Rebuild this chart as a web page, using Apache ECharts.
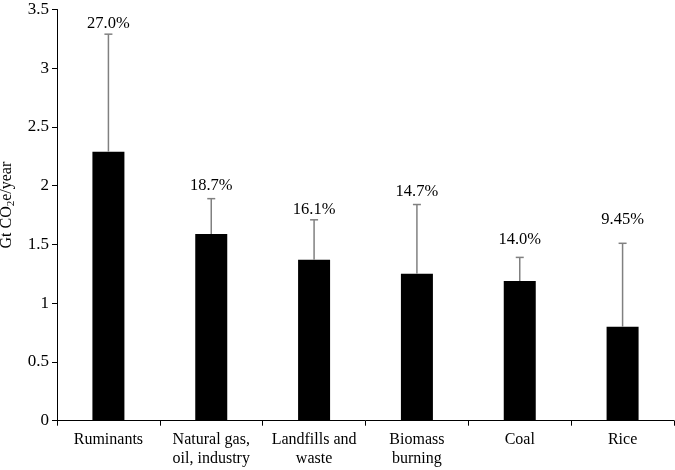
<!DOCTYPE html>
<html>
<head>
<meta charset="utf-8">
<script src="https://cdn.jsdelivr.net/npm/echarts@6/dist/echarts.min.js"></script>
<style>
html,body{margin:0;padding:0;background:#fff;}
#chart{width:675px;height:470px;}
</style>
</head>
<body>
<div id="chart"></div>
<script>
const categories = ['Ruminants', 'Natural gas,\noil, industry', 'Landfills and\nwaste', 'Biomass\nburning', 'Coal', 'Rice'];
const values = [2.29, 1.59, 1.37, 1.25, 1.19, 0.80];
const errorTops = [3.29, 1.89, 1.71, 1.84, 1.39, 1.51];
const shareLabels = ['27.0%', '18.7%', '16.1%', '14.7%', '14.0%', '9.45%'];
const labelAnchors = [3.38, 2.00, 1.80, 1.95, 1.54, 1.71];
const yTicks = { min: 0, max: 3.5, interval: 0.5 };

const FONT = "'Liberation Serif', 'Times New Roman', serif";
const chart = echarts.init(document.getElementById('chart'), null, { renderer: 'canvas' });

const errData = categories.map((c, i) => [i, values[i], errorTops[i]]);
const labData = categories.map((c, i) => [i, labelAnchors[i]]);

chart.setOption({
  animation: false,
  backgroundColor: '#fff',
  grid: { left: 57, right: 1, top: 9.5, bottom: 49.3, containLabel: false, outerBoundsMode: 'none' },
  xAxis: {
    type: 'category',
    data: categories,
    boundaryGap: true,
    axisLine: { lineStyle: { color: '#000', width: 1 } },
    axisTick: { show: true, length: 5, lineStyle: { color: '#000' } },
    axisLabel: { interval: 0, margin: 10, color: '#000', fontFamily: FONT, fontSize: 16, lineHeight: 19 },
    splitLine: { show: false }
  },
  yAxis: {
    type: 'value',
    min: yTicks.min, max: yTicks.max, interval: yTicks.interval,
    name: '{a|Gt CO}{s|2}{a|e/year}',
    nameLocation: 'middle',
    nameGap: 38,
    nameRotate: 90,
    nameTextStyle: {
      color: '#000', fontFamily: FONT, fontSize: 16,
      padding: [0, 0, 0, 20],
      rich: {
        a: { fontFamily: FONT, fontSize: 16, color: '#000', lineHeight: 20, verticalAlign: 'middle' },
        s: { fontFamily: FONT, fontSize: 11, color: '#000', lineHeight: 20, verticalAlign: 'bottom' }
      }
    },
    axisLine: { show: true, lineStyle: { color: '#000', width: 1 } },
    axisTick: { show: true, length: 5, lineStyle: { color: '#000' } },
    axisLabel: { margin: 8, color: '#000', fontFamily: FONT, fontSize: 17 },
    splitLine: { show: false }
  },
  series: [
    {
      type: 'bar',
      data: values,
      barWidth: 32,
      itemStyle: { color: '#000' },
      z: 2
    },
    {
      type: 'custom',
      data: errData,
      z: 3,
      renderItem: function (params, api) {
        const x = api.value(0);
        const base = api.coord([x, api.value(1)]);
        const top = api.coord([x, api.value(2)]);
        const cap = 4;
        const st = { stroke: '#808080', lineWidth: 1.5 };
        return {
          type: 'group',
          children: [
            { type: 'line', shape: { x1: base[0], y1: base[1], x2: top[0], y2: top[1] }, style: st },
            { type: 'line', shape: { x1: top[0] - cap, y1: top[1], x2: top[0] + cap, y2: top[1] }, style: st }
          ]
        };
      }
    },
    {
      type: 'custom',
      data: labData,
      z: 4,
      renderItem: function (params, api) {
        const p = api.coord([api.value(0), api.value(1)]);
        return {
          type: 'text',
          x: p[0], y: p[1],
          style: {
            text: shareLabels[params.dataIndex],
            fill: '#000',
            font: "16.5px " + FONT,
            align: 'center',
            verticalAlign: 'middle'
          }
        };
      }
    }
  ]
});
</script>
</body>
</html>
